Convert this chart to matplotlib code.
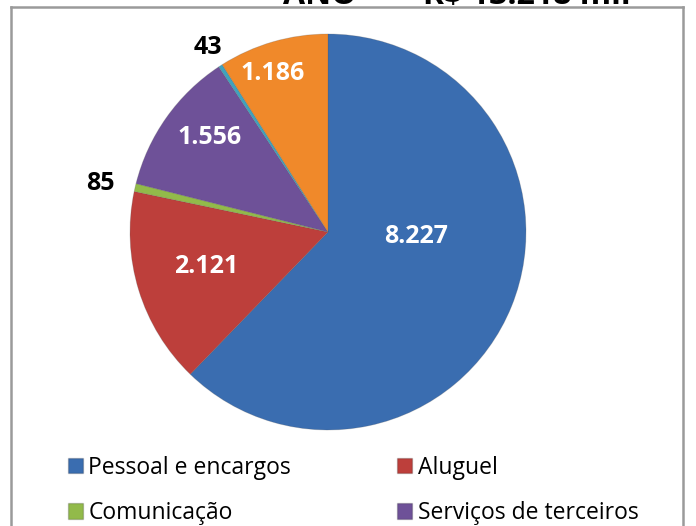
import matplotlib.pyplot as plt
from matplotlib.patches import Patch
from matplotlib.lines import Line2D

plt.rcParams['font.family'] = ['Open Sans', 'DejaVu Sans']

# dados (R$ mil)
categorias = ["Pessoal e encargos", "Aluguel", "Comunicação", "Serviços de terceiros", "Outros 1", "Outros 2"]
valores = [8227, 2121, 85, 1556, 43, 1186]
rotulos = ["8.227", "2.121", "85", "1.556", "43", "1.186"]
cores = ["#3A6DB0", "#BD3F3B", "#92BA4A", "#6E5198", "#3FA3BE", "#F0892A"]
legenda_n = 4  # so as 4 primeiras aparecem na imagem

fig = plt.figure(figsize=(6.96, 5.26), dpi=100)

# moldura do grafico (a parte de baixo fica fora da imagem)
W, H = 696, 526
for xs, ys in [((11, 683), (7, 7)), ((11, 11), (7, 530)), ((683, 683), (7, 530))]:
    fig.add_artist(Line2D([x / W for x in xs], [1 - y / H for y in ys],
                          color="#9A9A9A", lw=1.8, transform=fig.transFigure))

# titulo cortado no topo
fig.text(283 / W, 1 - 4 / H, "ANO   –   R$ 13.218 mil", fontsize=23, fontweight="bold",
         ha="left", va="baseline")

cx, cy, r = 328, 232, 198
ax = fig.add_axes([(cx - r) / W, 1 - (cy + r) / H, 2 * r / W, 2 * r / H])

wedges, _ = ax.pie(valores, colors=cores, startangle=90, counterclock=False, radius=1,
                   wedgeprops=dict(edgecolor="#55555540", linewidth=0.6))
ax.set_xlim(-1, 1)
ax.set_ylim(-1, 1)
ax.set_aspect("equal")
ax.axis("off")

# posicao dos rotulos (coordenadas do eixo da pizza)
pos_rotulos = [(0.444, -0.025), (-0.616, -0.172), (-1.152, 0.247),
               (-0.596, 0.475), (-0.606, 0.934), (-0.278, 0.803)]
cor_rotulos = ["white", "white", "black", "white", "black", "white"]
for txt, (x, y), c in zip(rotulos, pos_rotulos, cor_rotulos):
    ax.text(x, y, txt, ha="center", va="center", fontsize=18, fontweight="bold", color=c,
            clip_on=False)

# legenda preenchida por linha: Pessoal, Aluguel / Comunicação, Serviços
ordem = [0, 2, 1, 3]
handles = [Patch(facecolor=cores[i], edgecolor="#00000030", label=categorias[i]) for i in ordem]
fig.legend(handles=handles, ncol=2, loc="upper left", bbox_to_anchor=(47 / W, 1 - 435 / H),
           frameon=False, fontsize=16.5, handlelength=0.65, handleheight=0.65,
           handletextpad=0.26, columnspacing=4.6, labelspacing=0.93)

fig.savefig("out.png", dpi=100)
